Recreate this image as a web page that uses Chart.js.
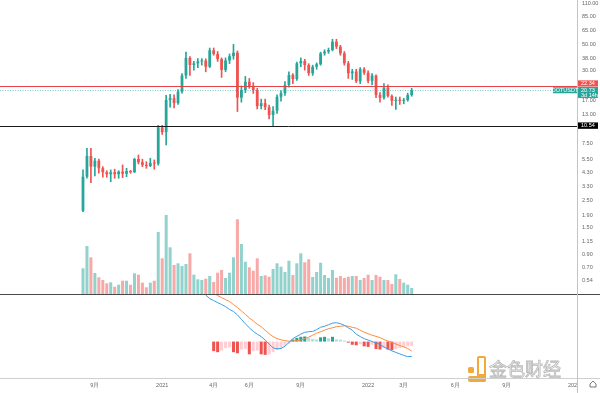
<!DOCTYPE html>
<html><head><meta charset="utf-8">
<script src="https://cdn.jsdelivr.net/npm/chart.js@4.4.1/dist/chart.umd.min.js"></script>
<style>html,body{margin:0;padding:0;background:#fff;}#wrap{width:600px;height:393px;position:relative;}</style>
</head><body><div id="wrap"><canvas id="c" width="600" height="393"></canvas></div>
<script>
// ---- data (weekly DOTUSDT candles, index 0 = first week) ----
const symbol = 'DOTUSDT';
const opens = [2.07,3.97,5.90,4.81,5.39,4.66,4.32,4.16,4.32,4.16, 4.37,4.20,4.42,4.32,5.57,5.23,4.97,4.87,5.16,5.10, 10.2,9.3,17.2,17.8,16.2,20.2,27.5,38.5,33.6,34.7, 36.0,36.6,32.5,44.5,41.5,37.6,30.6,36.7,39.8,42.5, 18.0,20.8,24.4,22.3,20.8,15.3,16.2,15.0,12.9,14.0, 18.3,19.6,22.9,27.8,25.7,34.7,36.3,33.6,28.7,32.5, 34.1,42.0,43.4,44.8,52.5,47.7,42.0,34.7,28.7,29.7, 24.6,31.0,29.0,24.8,27.5,18.9,18.0,21.8,18.6,16.9, 17.3,16.9,17.2,18.9];
const highs = [4.52,6.84,6.84,5.65,5.57,4.81,4.45,4.52,4.58,4.45, 4.97,4.66,4.48,5.65,6.01,5.55,5.29,5.65,5.47,10.6, 10.6,18.8,19.2,19.0,21.0,28.5,43.0,39.5,36.0,38.0, 38.0,37.8,46.5,46.5,43.5,38.5,38.5,41.5,49.8,44.0, 22.5,27.0,26.0,24.0,21.5,17.5,17.5,15.6,15.2,19.0, 20.5,24.5,29.5,28.5,35.5,38.5,37.5,34.5,33.5,35.0, 43.0,45.0,46.5,55.0,55.0,49.0,43.5,36.0,31.0,31.0, 32.0,32.0,30.0,28.5,27.8,19.8,23.5,23.0,19.0,18.2, 18.2,17.8,19.6,21.5];
const lows = [2.03,3.85,3.54,4.03,4.24,3.93,3.93,3.61,3.85,3.85, 3.90,3.97,4.24,4.30,5.06,4.81,4.66,4.81,4.58,4.95, 8.9,7.3,15.0,14.8,15.8,19.6,26.0,27.5,30.5,32.0, 33.5,29.5,32.0,40.5,36.0,26.5,29.5,34.5,37.5,13.8, 16.5,19.8,21.5,19.5,14.5,14.5,14.3,12.0,10.5,13.3, 16.8,18.8,22.0,23.5,25.0,32.5,30.5,27.5,27.5,31.0, 33.5,40.5,42.0,44.0,46.0,40.5,33.5,26.0,25.5,24.0, 23.5,28.0,23.8,23.0,18.0,16.5,17.5,18.2,15.5,14.4, 15.8,16.0,16.8,18.5];
const closes = [3.97,5.90,4.81,5.39,4.66,4.32,4.16,4.32,4.16,4.37, 4.20,4.42,4.32,5.57,5.23,4.97,4.87,5.16,5.10,10.2, 9.3,17.2,17.8,16.2,20.2,27.5,38.5,33.6,34.7,36.0, 36.6,32.5,44.5,41.5,37.6,30.6,36.7,39.8,42.5,18.0, 20.8,24.4,22.3,20.8,15.3,16.2,15.0,12.9,14.0,18.3, 19.6,22.9,27.8,25.7,34.7,36.3,33.6,28.7,32.5,34.1, 42.0,43.4,44.8,52.5,47.7,42.0,34.7,28.7,29.7,24.6, 31.0,29.0,24.8,27.5,18.9,18.0,21.8,18.6,16.9,17.3, 16.9,17.2,18.9,20.73];
const volumes = [25.7,48,36.7,21,16.7,14,10.7,11.7,7.3,9.3, 13.3,13.3,9.3,20.7,19.3,11.3,6.7,11.3,13.3,62, 35.7,79,46.7,29,30.7,28,30,40.7,19.3,14.7, 14,15.3,18,12,21.3,24,16,21.3,36.7,74.7, 50,32.3,26.7,23.3,35.7,18,18.7,17.3,25,30.7, 27.3,22,33.3,19,30.7,40.7,31.7,34.7,17,22, 31.3,19,16,24,16.3,18,16,17.3,18,18, 14,16,19.3,14,19,17.3,14,14,10,19.7, 15,11.3,9.3,6];
// MACD indicator (values from week macdStart / histStart onward)
const macdStart = 30;
const macdLine = [0.50,0.437,0.405,0.386,0.367,0.349,0.330,0.302,0.284,0.251, 0.209,0.167,0.130,0.096,0.070,0.047,0.014,-0.023,-0.059,-0.068, -0.065,-0.044,-0.009,0.028,0.049,0.070,0.087,0.093,0.096,0.112, 0.135,0.144,0.158,0.174,0.177,0.169,0.153,0.130,0.107,0.070, 0.047,0.028,0.014,0.000,-0.012,-0.028,-0.051,-0.070,-0.087,-0.102, -0.116,-0.130,-0.142,-0.140];
const signalLine = [0.55,0.52,0.49,0.46,0.433,0.414,0.395,0.377,0.349,0.321, 0.288,0.256,0.223,0.195,0.163,0.140,0.107,0.074,0.047,0.028, 0.016,0.009,0.003,0.005,0.009,0.014,0.028,0.042,0.060,0.079, 0.093,0.107,0.121,0.130,0.140,0.144,0.149,0.144,0.135,0.126, 0.107,0.088,0.074,0.060,0.049,0.037,0.019,0.005,-0.009,-0.023, -0.037,-0.051,-0.065,-0.090];
const histStart = 33;
const histogram = [-0.09,-0.10,-0.085,-0.06,-0.055,-0.10,-0.11,-0.075,-0.07,-0.12, -0.09,-0.085,-0.12,-0.125,-0.12,-0.10,-0.08,-0.06,-0.04,-0.02, 0.02,0.035,0.045,0.048,0.035,0.025,0.02,0.04,0.045,0.03, 0.045,0.02,0.018,0.01,-0.01,-0.03,-0.035,-0.025,-0.045,-0.05, -0.03,-0.07,-0.075,-0.06,-0.075,-0.08,-0.07,-0.06,-0.05,-0.045, -0.04];
// axis ticks
const xTickPositions = [3,20,33,42,55,72,81,94,107,124];
const xTickLabels = ['9月','2021','4月','6月','9月','2022','3月','6月','9月','2023'];
const priceTicks = [110,85,65,50,38,30,17,13,7.5,5.5,4.3,3.3,2.5,1.9,1.5,1.15,0.9,0.7,0.54];
const macdTicks = [0.4,0.2,0,-0.2];
// horizontal levels
const levelRed = 22.34, levelBlack = 10.54, lastPrice = closes[closes.length-1], countdown = '3d 14h';

// ---- layout / style ----
const PANE_SPLIT = 294/378;            // share of plot height for the price pane
const PRICE_PANE = [0.421, 116.5];     // price range shown in the price pane
const MACD_PANE = [-0.343, 0.448];     // macd range shown in the macd pane
const VOL_SHARE = 0.2687;              // tallest volume bar / price pane height
const X_RANGE = [-20.96, 124.75];
const UP = '#26a69a', DOWN = '#ef5350';
const FONT = "'Liberation Sans', Arial, sans-serif";

const lr = Math.log10(PRICE_PANE[1]) - Math.log10(PRICE_PANE[0]);
const priceMin = Math.pow(10, Math.log10(PRICE_PANE[0]) - lr*(1-PANE_SPLIT)/PANE_SPLIT);
const macdMax = MACD_PANE[0] + (MACD_PANE[1]-MACD_PANE[0])/(1-PANE_SPLIT);
const volMax = Math.max(...volumes)/VOL_SHARE;
const volMin = -volMax*(1-PANE_SPLIT)/PANE_SPLIT;

const idx = opens.map((_, i) => i);
const candleCol = idx.map(i => closes[i] >= opens[i] ? UP : DOWN);
const volCol = idx.map(i => closes[i] >= opens[i] ? 'rgba(38,166,154,0.5)' : 'rgba(239,83,80,0.5)');
const histCol = histogram.map((v, k) => {
  const p = k > 0 ? histogram[k-1] : v;
  if (v >= 0) return v >= p ? '#26a69a' : '#b2dfdb';
  return v <= p ? '#ef5350' : '#ffcdd2';
});

const noPad = s => { s.paddingTop = 0; s.paddingBottom = 0; s.paddingLeft = 0; s.paddingRight = 0; };

const paneClip = {
  id: 'paneClip',
  beforeDatasetDraw(chart, args) {
    const ds = chart.data.datasets[args.index];
    const a = chart.chartArea, ctx = chart.ctx;
    const split = a.top + a.height*PANE_SPLIT;
    ctx.save(); ctx.beginPath();
    if (ds.yAxisID === 'ym') ctx.rect(a.left, split, a.right-a.left, a.bottom-split);
    else ctx.rect(a.left, a.top, a.right-a.left, split-a.top);
    ctx.clip();
  },
  afterDatasetDraw(chart) { chart.ctx.restore(); }
};

function box(ctx, x, y, w, h, fill, lines, align) {
  ctx.fillStyle = fill; ctx.fillRect(x, y, w, h);
  ctx.fillStyle = '#fff'; ctx.font = '5.5px ' + FONT; ctx.textBaseline = 'middle';
  ctx.textAlign = align || 'left';
  const lh = h/lines.length;
  lines.forEach((t, k) => ctx.fillText(t, align === 'center' ? x + w/2 : x + 3, y + lh*k + lh/2 + 0.3));
}

const overlay = {
  id: 'overlay',
  afterDatasetsDraw(chart) {
    const {ctx, chartArea: a, scales} = chart;
    const ys = scales.y;
    ctx.save();
    const yr = Math.round(ys.getPixelForValue(levelRed)) + 0.5;
    const yb = Math.round(ys.getPixelForValue(levelBlack)) + 0.5;
    const yl = Math.round(ys.getPixelForValue(lastPrice)) + 0.5;
    ctx.lineWidth = 1;
    ctx.strokeStyle = 'rgba(38,166,154,0.6)'; ctx.setLineDash([1,1.5]);
    ctx.beginPath(); ctx.moveTo(a.left, yl); ctx.lineTo(a.right, yl); ctx.stroke();
    ctx.setLineDash([]);
    ctx.strokeStyle = '#e5434a';
    ctx.beginPath(); ctx.moveTo(a.left, yr); ctx.lineTo(a.right, yr); ctx.stroke();
    ctx.strokeStyle = '#1a1a1a';
    ctx.beginPath(); ctx.moveTo(a.left, yb); ctx.lineTo(a.right, yb); ctx.stroke();
    ctx.restore();
  },
  afterDraw(chart) {
    const {ctx, chartArea: a, scales} = chart;
    const ys = scales.y;
    const W = chart.width, H = chart.height;
    ctx.save();
    // watermark
    ctx.font = '18px "Noto Sans CJK SC", sans-serif';
    ctx.textBaseline = 'middle'; ctx.textAlign = 'left';
    ctx.lineWidth = 0.8; ctx.strokeStyle = 'rgba(160,160,160,0.75)';
    ctx.fillStyle = 'rgba(245,245,245,0.6)';
    ctx.fillText('金色财经', 489, 369); ctx.strokeText('金色财经', 489, 369);
    ctx.fillStyle = '#f2a93b';
    ctx.beginPath(); ctx.roundRect(468, 367, 6, 6, 1.5); ctx.fill();
    ctx.beginPath(); ctx.roundRect(477, 356, 9, 26, 2); ctx.fill();
    ctx.beginPath(); ctx.roundRect(468, 376, 18, 6, 2); ctx.fill();
    ctx.fillStyle = '#fff'; ctx.fillRect(479, 358, 5, 16);
    // pane separator
    const split = Math.round(a.top + a.height*PANE_SPLIT) + 0.5;
    ctx.strokeStyle = '#4a4a4a'; ctx.lineWidth = 1;
    ctx.beginPath(); ctx.moveTo(0, split); ctx.lineTo(W, split); ctx.stroke();
    // bottom axis line
    ctx.strokeStyle = '#cfcfcf';
    ctx.beginPath(); ctx.moveTo(0, Math.round(a.bottom)+0.5); ctx.lineTo(W, Math.round(a.bottom)+0.5); ctx.stroke();
    // cover the corner under the price scale
    ctx.fillStyle = '#fff'; ctx.fillRect(a.right, a.bottom + 1, W - a.right, H - a.bottom);
    // right scale border
    ctx.strokeStyle = '#c4c4c4';
    ctx.beginPath(); ctx.moveTo(Math.round(a.right)+0.5, 0); ctx.lineTo(Math.round(a.right)+0.5, H); ctx.stroke();
    // small settings glyph
    ctx.strokeStyle = '#555'; ctx.lineWidth = 0.8;
    ctx.beginPath(); ctx.moveTo(590, 384); ctx.lineTo(593, 381); ctx.lineTo(596, 384); ctx.lineTo(596, 387); ctx.lineTo(590, 387); ctx.closePath(); ctx.stroke();
    // price labels
    const yr = ys.getPixelForValue(levelRed);
    const yl = ys.getPixelForValue(lastPrice);
    const yb = ys.getPixelForValue(levelBlack);
    const bx = a.right + 1, bw = 20;
    const tealTop = yl - 3.3;
    let redTop = yr - 3.2;
    if (redTop + 6.4 > tealTop) redTop = tealTop - 6.6;
    box(ctx, bx, redTop, bw, 6.2, '#ef5350', [levelRed.toFixed(2)]);
    box(ctx, bx, tealTop, bw, 11, UP, [lastPrice.toFixed(2), countdown]);
    box(ctx, a.right - 24, yl - 3, 24, 6, UP, [symbol], 'center');
    box(ctx, bx, yb - 3.2, bw, 6.4, '#000', [levelBlack.toFixed(2)]);
    ctx.restore();
  }
};

const tickFont = {size: 5.5, family: FONT};
new Chart(document.getElementById('c'), {
  type: 'bar',
  data: {
    datasets: [
      { label: 'wick', data: idx.map(i => ({x: i, y: [lows[i], highs[i]]})), backgroundColor: candleCol,
        barThickness: 1, grouped: false, yAxisID: 'y', order: 2 },
      { label: 'body', data: idx.map(i => ({x: i, y: [opens[i], closes[i]]})), backgroundColor: candleCol,
        barPercentage: 0.9, categoryPercentage: 0.78, minBarLength: 1, grouped: false, yAxisID: 'y', order: 1 },
      { label: 'volume', data: idx.map(i => ({x: i, y: volumes[i]})), backgroundColor: volCol,
        barPercentage: 0.9, categoryPercentage: 0.85, grouped: false, yAxisID: 'yv', order: 5 },
      { label: 'hist', data: histogram.map((v, k) => ({x: histStart + k, y: v})), backgroundColor: histCol,
        barPercentage: 0.9, categoryPercentage: 0.85, grouped: false, yAxisID: 'ym', order: 4 },
      { type: 'line', label: 'signal', data: signalLine.map((v, k) => ({x: macdStart + k, y: v})),
        borderColor: '#ff8a3d', borderWidth: 1, pointRadius: 0, tension: 0, yAxisID: 'ym', order: 3 },
      { type: 'line', label: 'macd', data: macdLine.map((v, k) => ({x: macdStart + k, y: v})),
        borderColor: '#3b9dea', borderWidth: 1, pointRadius: 0, tension: 0, yAxisID: 'ym', order: 2.5 }
    ]
  },
  options: {
    responsive: false, animation: false, devicePixelRatio: 1,
    layout: {padding: 0},
    plugins: {legend: {display: false}, tooltip: {enabled: false}},
    scales: {
      x: {
        type: 'linear', min: X_RANGE[0], max: X_RANGE[1], offset: false,
        grid: {display: false, drawTicks: false}, border: {display: false},
        afterBuildTicks: s => { s.ticks = xTickPositions.map(v => ({value: v})); },
        afterFit: s => { s.height = 15; noPad(s); },
        ticks: { autoSkip: false, maxRotation: 0, padding: 4, font: tickFont, color: '#666',
          callback: v => { const k = xTickPositions.indexOf(v); return k >= 0 ? xTickLabels[k] : ''; } }
      },
      ym: {
        type: 'linear', position: 'right', weight: 0, min: MACD_PANE[0], max: macdMax,
        grid: {display: false, drawTicks: false}, border: {display: false},
        afterBuildTicks: s => { s.ticks = macdTicks.map(v => ({value: v})); },
        afterFit: s => { s.width = 0; noPad(s); },
        ticks: { autoSkip: false, padding: 5, font: tickFont, color: '#666', callback: v => Number(v).toFixed(2) }
      },
      yv: { type: 'linear', position: 'right', weight: 0, display: false, min: volMin, max: volMax,
        afterFit: s => { s.width = 0; noPad(s); } },
      y: {
        type: 'logarithmic', position: 'right', weight: 1, min: priceMin, max: PRICE_PANE[1], bounds: 'data',
        grid: {display: false, drawTicks: false}, border: {display: false},
        afterBuildTicks: s => { s.ticks = priceTicks.map(v => ({value: v})); },
        afterFit: s => { s.width = 23; noPad(s); },
        ticks: { autoSkip: false, padding: 5, font: tickFont, color: '#666', callback: v => Number(v).toFixed(2) }
      }
    }
  },
  plugins: [paneClip, overlay]
});
</script>
</body></html>
